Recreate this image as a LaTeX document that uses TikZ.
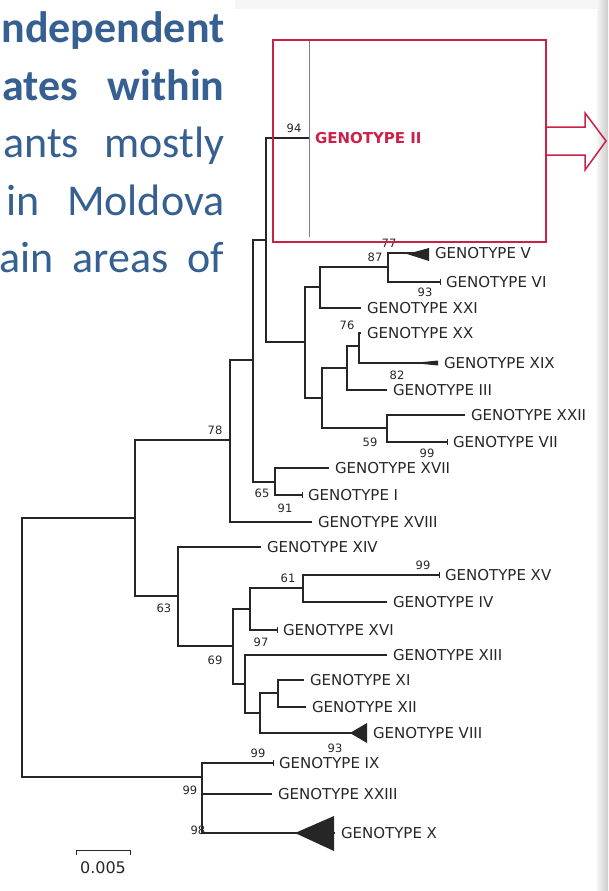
\documentclass[tikz,border=0pt]{standalone}
\usepackage{fontspec}
\setmainfont{DejaVu Sans}
\newfontfamily\slidefont{Carlito}
\usetikzlibrary{calc}

\definecolor{slideblue}{RGB}{55,96,146}
\definecolor{boxred}{RGB}{204,32,72}

\tikzset{
	leaf/.style={anchor=west, inner sep=0pt, outer xsep=6pt, text=black!85, font=\fontsize{15}{18}\selectfont},
	boot/.style={inner sep=0pt, text=black!85, font=\fontsize{11.5}{13}\selectfont},
	slide/.style={anchor=base east, inner sep=0pt, text=slideblue, font=\slidefont\fontsize{44}{53}\selectfont},
	slidebold/.style={slide, font=\slidefont\bfseries\fontsize{44}{53}\selectfont},
}

\begin{document}
\begin{tikzpicture}[x=1pt, y=-1pt, line width=1.1pt]
			\useasboundingbox (0,0) rectangle (608,891);

			% Фон слайда
			\fill[gray!8] (235,0) rectangle (608,9);
			\shade[left color=gray!8, right color=gray!40] (597,0) rectangle (608,891);

			% Текст слева
			\node[slidebold] (t1) at (225,43) {ndependent};
			\node[slidebold] (t2) at (225,100) {\makebox[222pt][s]{ates within}};
			\node[slide] (t3) at (225,157) {\makebox[221pt][s]{ants mostly}};
			\node[slide] (t4) at (225,215) {\makebox[218pt][s]{in Moldova}};
			\node[slide] (t5) at (225,272) {\makebox[225pt][s]{ain areas of}};

			% Узлы дерева
			\coordinate (R) at (22,647);
			\coordinate (A) at (135,518);
			\coordinate (B) at (230,440);
			\coordinate (D) at (253,360);
			\coordinate (E) at (266,240);
			\coordinate (H) at (305,342);
			\coordinate (I) at (320,287);
			\coordinate (K) at (388,267);
			\coordinate (J) at (322,398);
			\coordinate (L) at (347,368);
			\coordinate (N) at (359,346);
			\coordinate (M) at (387,428);
			\coordinate (F) at (275,482);
			\coordinate (C) at (178,596);
			\coordinate (P) at (233,646);
			\coordinate (Q) at (250,609);
			\coordinate (T) at (303,588);
			\coordinate (S) at (245,684);
			\coordinate (U) at (260,713);
			\coordinate (V) at (278,693);
			\coordinate (W) at (202,777);

			% Листья
			\foreach \n/\x/\y in {V/429/253, VI/440/282, XXI/361/308, XX/361/333, XIX/438/363,
					III/387/390, XXII/465/415, VII/447/442, XVII/329/468, I/302/495, XVIII/312/522,
					XIV/261/547, XV/439/575, IV/387/602, XVI/277/630, XIII/387/655, XI/304/680,
					XII/306/707, VIII/367/733, IX/273/763, XXIII/272/794, X/335/833}
					\node[leaf] (l\n) at (\x,\y) {GENOTYPE \n};

			% Кластер II
			\draw[gray, line width=0.8pt] (309,40) -- (309,237);
			\node[leaf, text=boxred, font=\bfseries\fontsize{15}{18}\selectfont] (lII) at (309,138) {GENOTYPE II};

			% Ветви
			\foreach \p/\c in {R/A, R/W, A/B, A/C, B/D, B/lXVIII.west, D/E, D/F, E/lII.west, E/H,
					H/I, H/J, I/K, I/lXXI.west, K/lV.west, K/lVI.west, J/L, J/M, L/N, L/lIII.west,
					N/lXX.west, N/lXIX.west, M/lXXII.west, M/lVII.west, F/lXVII.west, F/lI.west,
					C/lXIV.west, C/P, P/Q, P/S, Q/T, Q/lXVI.west, T/lXV.west, T/lIV.west,
					S/lXIII.west, S/U, U/V, U/lVIII.west, V/lXI.west, V/lXII.west,
					W/lIX.west, W/lXXIII.west, W/lX.west}
					\draw[black!85] (\p) |- (\c);

			% Засечки и клинья
			\foreach \n in {VI,VII,XV,I,XVI,IX}
					\draw[black!85, line width=0.8pt] ($(l\n.west)+(0,-3)$) -- ++(0,6);
			\fill[black!85] (407,254) -- (429,248) -- (429,261) -- cycle;
			\fill[black!85] (413,363) -- (438,360.5) -- (438,365.5) -- cycle;
			\fill[black!85] (350,733) -- (367,723) -- (367,743) -- cycle;
			\fill[black!85] (295,833) -- (334,816) -- (334,851) -- cycle;

			% Бутстреп
			\foreach \b/\x/\y [count=\i] in {94/294/128, 77/389/243, 87/375/257, 93/425/292, 76/347/325,
					82/397/375, 59/370/442, 99/427/453, 65/262/493, 91/285/508, 78/215/430,
					63/164/608, 61/288/578, 99/423/565, 97/261/642, 69/215/660, 93/335/748,
					99/258/753, 99/190/790, 98/198/830}
					\node[boot] (b\i) at (\x,\y) {\b};

			% Рамка и стрелка
			\draw[boxred, line width=2.2pt] (273,40) rectangle (546,242);
			\draw[boxred, line width=1.5pt] (546,127) -- (585,127) -- (585,113) -- (606,141)
					-- (585,170) -- (585,155) -- (546,155);

			% Масштаб
			\draw[black!85, line width=0.8pt] (76,855) -- (76,850) -- (130,850) -- (130,855);
			\node[text=black!85, font=\fontsize{16}{18}\selectfont] (scale) at (103,868) {0.005};
		\end{tikzpicture}
\end{document}
